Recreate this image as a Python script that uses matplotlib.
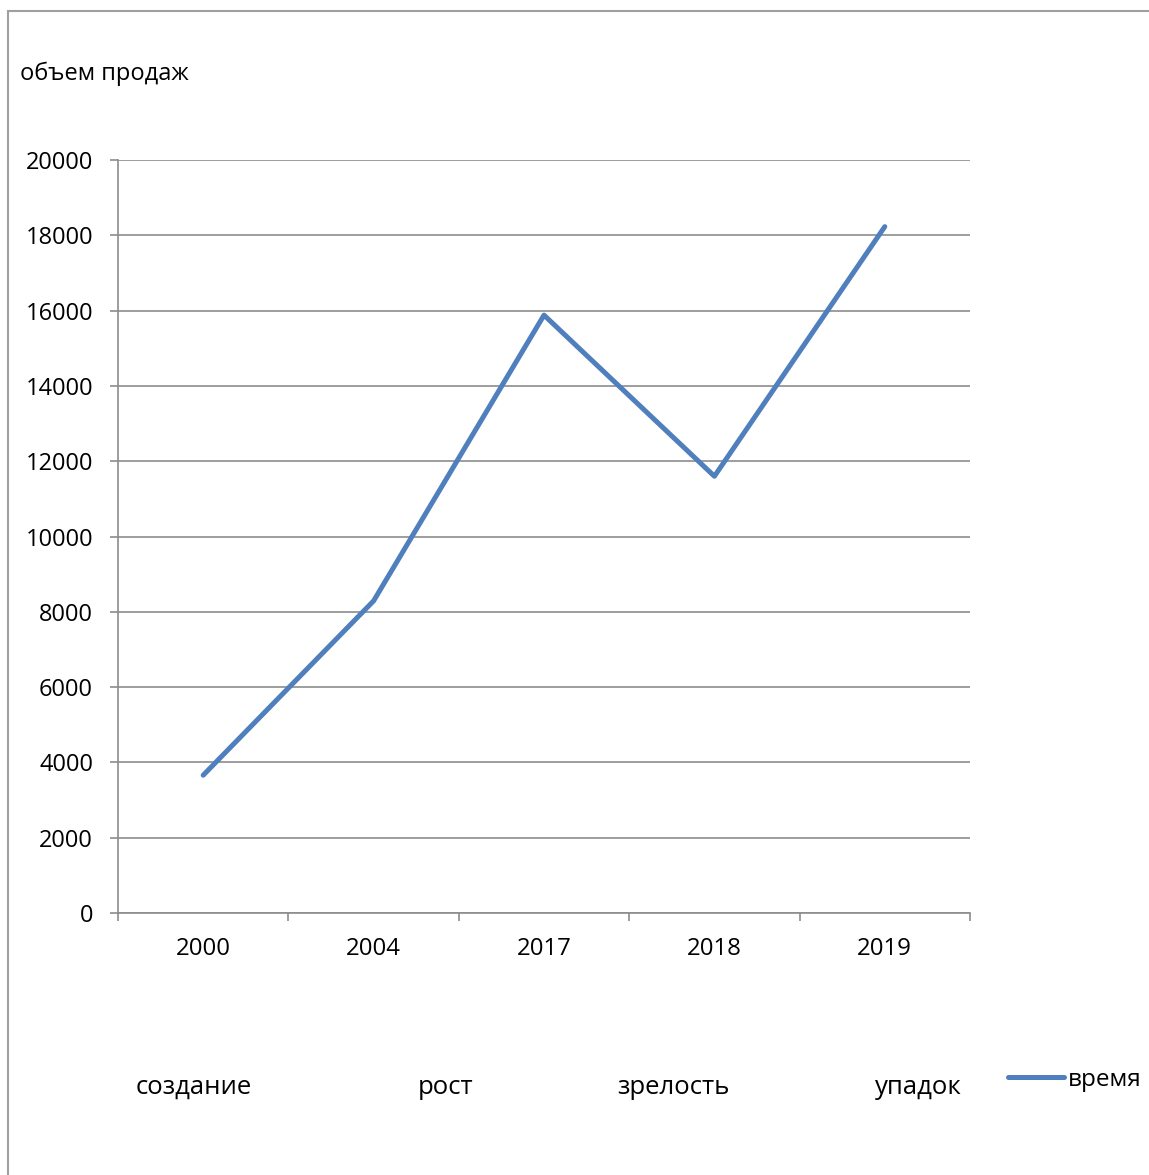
import matplotlib
matplotlib.use("Agg")
import matplotlib.pyplot as plt
from matplotlib.patches import Rectangle

plt.rcParams["font.family"] = ["Open Sans", "DejaVu Sans"]

# данные графика
years = ["2000", "2004", "2017", "2018", "2019"]
sales = [3660, 8290, 15880, 11600, 18230]
stages = ["создание", "рост", "зрелость", "упадок"]
stage_x = [194, 446, 673, 918]  # центры подписей стадий, px
y_ticks = list(range(0, 20001, 2000))

W, H = 1149, 1175
LINE_BLUE = "#4F7FBC"
GRID = "#8C8C8C"

fig = plt.figure(figsize=(W / 100, H / 100), dpi=100)
fig.patch.set_facecolor("white")

# рамка области диаграммы (уходит за правый и нижний край)
fig.add_artist(Rectangle((8 / W, -0.1), 1.2, 1 - 11 / H + 0.1,
                         transform=fig.transFigure, fill=False,
                         edgecolor="#A0A0A0", lw=1.5))

ax = fig.add_axes([118 / W, 1 - 913 / H, 852 / W, 753 / H])
x = list(range(len(years)))
line, = ax.plot(x, sales, color=LINE_BLUE, lw=3.6, solid_capstyle="round",
                label="время")

ax.set_xlim(-0.5, len(years) - 0.5)
ax.set_ylim(0, 20000)
ax.set_yticks(y_ticks)
ax.set_yticklabels([str(v) for v in y_ticks])
ax.set_xticks(x)
ax.set_xticklabels(years)
ax.set_xticks([i - 0.5 for i in range(len(years) + 1)], minor=True)
ax.tick_params(axis="x", which="major", length=0, pad=17, labelsize=17.3)
ax.tick_params(axis="x", which="minor", length=6, width=1.2, color=GRID,
               direction="out")
ax.tick_params(axis="y", length=6, width=1.2, color=GRID, pad=12,
               labelsize=17)
ax.yaxis.grid(True, color=GRID, lw=1.2)
ax.set_axisbelow(True)
for s in ["top", "right"]:
    ax.spines[s].set_visible(False)
for s in ["left", "bottom"]:
    ax.spines[s].set_color(GRID)
    ax.spines[s].set_linewidth(1.2)

fig.text(20 / W, 1 - 74 / H, "объем продаж", fontsize=17, ha="left",
         va="center")

for name, px in zip(stages, stage_x):
    fig.text(px / W, 1 - 1087 / H, name, fontsize=18.5, ha="center",
             va="center")

ax.legend(handles=[line], loc="center left",
          bbox_to_anchor=(1008 / W, 1 - 1080 / H),
          bbox_transform=fig.transFigure, frameon=False, fontsize=17.5,
          handlelength=2.3, handletextpad=0.15, borderpad=0, borderaxespad=0)

fig.savefig("out.png", dpi=100)
